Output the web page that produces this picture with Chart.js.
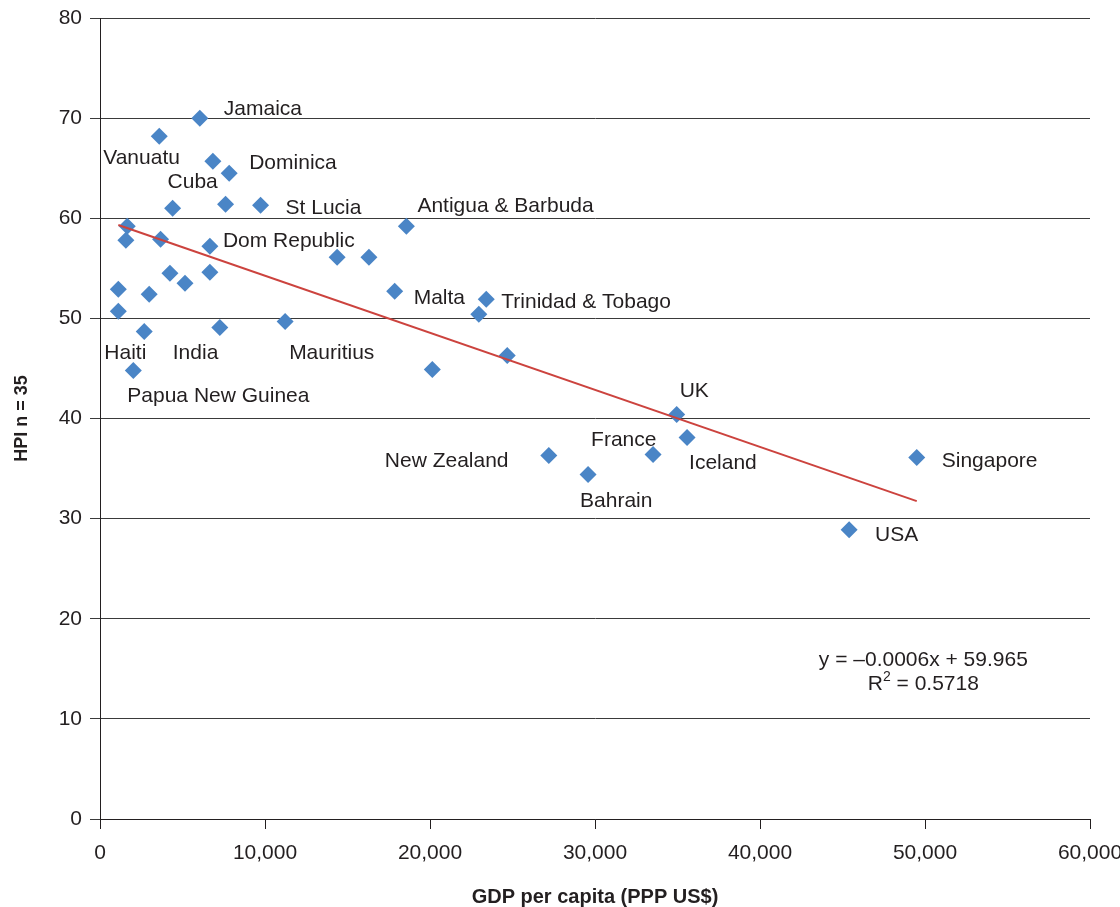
<!DOCTYPE html>
<html>
<head>
<meta charset="utf-8">
<script src="https://cdn.jsdelivr.net/npm/chart.js"></script>
<style>
html,body{margin:0;padding:0;background:#ffffff;}
#c{display:block;}
</style>
</head>
<body>
<canvas id="c" width="1120" height="907"></canvas>
<script>
// ---------- DATA ----------
const gdpPerCapita = [6050, 3590, 6840, 7830, 4400, 7610, 9730, 18570, 1650, 1570,
  3670, 6660, 14370, 16300, 4240, 6660, 5150, 1110, 2980, 17860,
  23410, 22960, 1110, 2680, 7260, 11220, 24680, 20140, 2020, 34950,
  35580, 27200, 33520, 29580, 49500, 45400];
const hpiValues = [70.0, 68.2, 65.7, 64.5, 61.0, 61.4, 61.3, 59.2, 59.2, 57.8,
  57.9, 57.2, 56.1, 56.1, 54.5, 54.6, 53.5, 52.9, 52.4, 52.7,
  51.9, 50.4, 50.7, 48.7, 49.1, 49.7, 46.3, 44.9, 44.8, 40.4,
  38.1, 36.3, 36.4, 34.4, 36.1, 28.9];
const countryNames = ["Jamaica", "Vanuatu", "Dominica", "Cuba", "St Lucia",
  "Antigua & Barbuda", "Dom Republic", "Malta", "Trinidad & Tobago", "Haiti",
  "India", "Mauritius", "Papua New Guinea", "UK", "France", "Iceland",
  "New Zealand", "Bahrain", "Singapore", "USA"];
const countryPointIndex = [0, 1, 3, 4, 6, 7, 11, 19, 20, 22, 24, 25, 28, 29, 32, 30, 31, 33, 34, 35];
const xTickValues = [0, 10000, 20000, 30000, 40000, 50000, 60000];
const yTickValues = [0, 10, 20, 30, 40, 50, 60, 70, 80];
const equationText = "y = \u20130.0006x + 59.965";
const rSquaredText = "0.5718";
const xAxisTitle = "GDP per capita (PPP US$)";
const yAxisTitle = "HPI n = 35";

// ---------- STYLE (label offsets in pixels from their point) ----------
const labelOffsets = [
  [24, -9], [-56, 22], [20, -10], [-5, -26], [25, 3],
  [11, -20], [13, -5], [19, 7], [15, 3], [-14, 42],
  [-47, 26], [4, 32], [-6, 26], [3, -23], [-62, -14],
  [2, 26], [-164, 6], [-8, 27], [25, 4], [26, 6]
];
const FONT = "'Liberation Sans', Arial, Helvetica, sans-serif";
const TEXT = '#231f20';

// ---------- Regression from the data ----------
const n = gdpPerCapita.length;
let sx = 0, sy = 0;
for (let i = 0; i < n; i++) { sx += gdpPerCapita[i]; sy += hpiValues[i]; }
const mx = sx / n, my = sy / n;
let sxy = 0, sxx = 0;
for (let i = 0; i < n; i++) {
  sxy += (gdpPerCapita[i] - mx) * (hpiValues[i] - my);
  sxx += (gdpPerCapita[i] - mx) * (gdpPerCapita[i] - mx);
}
const slope = sxy / sxx, intercept = my - slope * mx;
const xMin = Math.min(...gdpPerCapita), xMax = Math.max(...gdpPerCapita);
const trendData = [{x: xMin, y: intercept + slope * xMin}, {x: xMax, y: intercept + slope * xMax}];

const points = gdpPerCapita.map((g, i) => ({x: g, y: hpiValues[i]}));

const labelPlugin = {
  id: 'labels',
  afterDatasetsDraw(chart) {
    const ctx = chart.ctx;
    const meta = chart.getDatasetMeta(1);
    ctx.save();
    ctx.font = "21px " + FONT;
    ctx.fillStyle = TEXT;
    ctx.textAlign = 'left';
    ctx.textBaseline = 'middle';
    countryNames.forEach((name, k) => {
      const el = meta.data[countryPointIndex[k]];
      ctx.fillText(name, el.x + labelOffsets[k][0], el.y + labelOffsets[k][1]);
    });
    // equation
    const xs = chart.scales.x, ys = chart.scales.y;
    const cx = xs.getPixelForValue(49900);
    ctx.textAlign = 'center';
    ctx.fillText(equationText, cx, ys.getPixelForValue(15.85));
    const y2 = ys.getPixelForValue(13.45);
    const partA = "R", partB = " = " + rSquaredText;
    const wA = ctx.measureText(partA).width, wB = ctx.measureText(partB).width;
    ctx.font = "14px " + FONT;
    const wS = ctx.measureText("2").width;
    const total = wA + wS + wB;
    let left = cx - total / 2;
    ctx.textAlign = 'left';
    ctx.font = "21px " + FONT;
    ctx.fillText(partA, left, y2);
    ctx.font = "14px " + FONT;
    ctx.fillText("2", left + wA, y2 - 7);
    ctx.font = "21px " + FONT;
    ctx.fillText(partB, left + wA + wS, y2);
    ctx.restore();
  }
};

new Chart(document.getElementById('c'), {
  type: 'scatter',
  data: {
    datasets: [
      {
        type: 'line',
        data: trendData,
        borderColor: '#cc433e',
        borderWidth: 2,
        pointRadius: 0,
        fill: false,
        order: 0
      },
      {
        data: points,
        pointStyle: 'rectRot',
        pointRadius: 8.5,
        pointHoverRadius: 8.5,
        backgroundColor: '#4a85c6',
        borderColor: '#4a85c6',
        borderWidth: 0,
        order: 1
      }
    ]
  },
  plugins: [labelPlugin],
  options: {
    responsive: false,
    animation: false,
    devicePixelRatio: 1,
    layout: {padding: {top: 18, right: 30, left: 0, bottom: 0}},
    plugins: {legend: {display: false}, tooltip: {enabled: false}},
    scales: {
      x: {
        type: 'linear',
        min: 0, max: 60000,
        afterBuildTicks(scale) { scale.ticks = xTickValues.map(v => ({value: v})); },
        afterFit(scale) { scale.height = 88; scale.paddingLeft = 0; scale.paddingRight = 0; },
        ticks: {
          autoSkip: false, maxRotation: 0, minRotation: 0,
          padding: 12,
          color: TEXT,
          font: {size: 21, family: FONT},
          callback: v => v.toLocaleString('en-US')
        },
        grid: {drawOnChartArea: false, drawTicks: true, tickLength: 10, color: '#231f20', lineWidth: 1},
        border: {display: true, color: '#231f20', width: 1},
        title: {display: true, text: xAxisTitle, color: TEXT,
          font: {size: 20, weight: 'bold', family: FONT, lineHeight: 1}, padding: {top: 0, bottom: 0}}
      },
      y: {
        type: 'linear',
        min: 0, max: 80,
        afterBuildTicks(scale) { scale.ticks = yTickValues.map(v => ({value: v})); },
        afterFit(scale) { scale.width = 100; scale.paddingTop = 0; scale.paddingBottom = 0; },
        ticks: {
          padding: 8,
          color: TEXT,
          font: {size: 21, family: FONT}
        },
        grid: {drawOnChartArea: true, drawTicks: true, tickLength: 10, color: '#3a3a3a', lineWidth: 1},
        border: {display: true, color: '#231f20', width: 1},
        title: {display: true, text: yAxisTitle, color: TEXT,
          font: {size: 18, weight: 'bold', family: FONT, lineHeight: 1}, padding: {top: 13, bottom: 0}}
      }
    }
  }
});
</script>
</body>
</html>
